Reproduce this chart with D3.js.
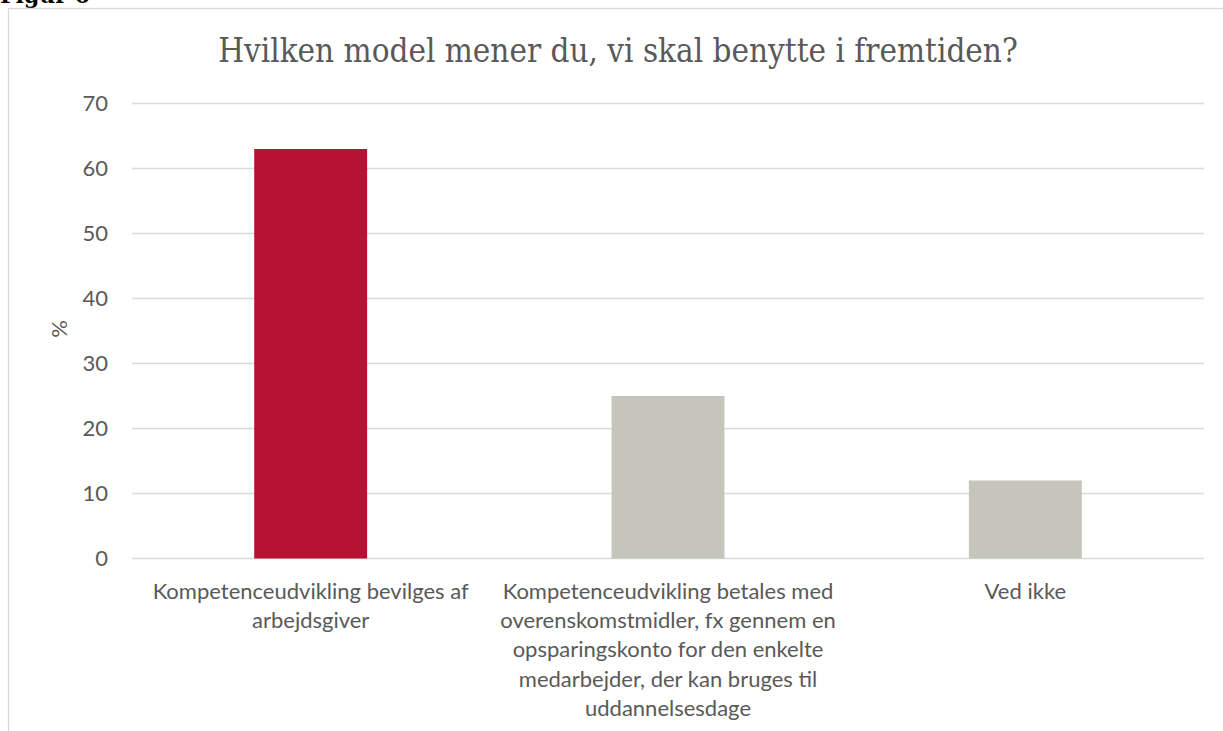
<!DOCTYPE html>
<html>
<head>
<meta charset="utf-8">
<script src="https://cdn.jsdelivr.net/npm/d3@7"></script>
<style>
  body { margin: 0; background: #fff; }
  svg { display: block; }
</style>
</head>
<body>
<div id="chart"></div>
<script>
// chart data
const categories = [
  "Kompetenceudvikling bevilges af\narbejdsgiver",
  "Kompetenceudvikling betales med\noverenskomstmidler, fx gennem en\nopsparingskonto for den enkelte\nmedarbejder, der kan bruges til\nuddannelsesdage",
  "Ved ikke"
];
const values = [63, 25, 12];
const yTicks = [0, 10, 20, 30, 40, 50, 60, 70];
const title = "Hvilken model mener du, vi skal benytte i fremtiden?";
const yLabel = "%";

const W = 1223, H = 731;
const margin = {top: 103.5, right: 19, bottom: 172.5, left: 132},
    width = W - margin.left - margin.right,
    height = H - margin.top - margin.bottom;

const font = "Lato, 'Open Sans', sans-serif";

const svg = d3.select("#chart")
    .append("svg")
    .attr("width", W)
    .attr("height", H);

// figure caption cut off at the top
svg.append("text")
    .attr("x", 0)
    .attr("y", 3)
    .attr("font-family", "DejaVu Serif")
    .attr("font-weight", "bold")
    .attr("font-size", 22)
    .attr("fill", "#000")
    .text("Figur 6");

// chart frame
svg.append("rect")
    .attr("x", 8.5)
    .attr("y", 8.5)
    .attr("width", W + 20)
    .attr("height", H + 20)
    .attr("fill", "none")
    .attr("stroke", "#d9d9d9")
    .attr("stroke-width", 1.3);

const g = svg.append("g")
    .attr("transform", `translate(${margin.left}, ${margin.top})`);

const x = d3.scaleBand()
    .domain(categories)
    .range([0, width])
    .paddingInner(0.684)
    .paddingOuter(0.342);

const y = d3.scaleLinear()
    .domain([0, 70])
    .range([height, 0]);

// gridlines
g.append("g")
    .selectAll("line")
    .data(yTicks)
    .join("line")
    .attr("x1", 0)
    .attr("x2", width)
    .attr("y1", d => y(d))
    .attr("y2", d => y(d))
    .attr("stroke", "#d9d9d9")
    .attr("stroke-width", 1.5);

// Y axis labels
const yAxis = g.append("g")
    .call(d3.axisLeft(y).tickValues(yTicks).tickSize(0).tickPadding(24));
yAxis.select(".domain").remove();
yAxis.selectAll("text")
    .attr("font-family", font)
    .attr("font-size", 22)
    .attr("fill", "#595959");

// bars
g.selectAll("rect.bar")
    .data(values)
    .join("rect")
    .attr("class", "bar")
    .attr("x", (d, i) => x(categories[i]))
    .attr("y", d => y(d))
    .attr("width", x.bandwidth())
    .attr("height", d => height - y(d))
    .attr("fill", (d, i) => i === 0 ? "#b71234" : "#c5c5bc");

// X category labels, multi-line
const xLab = g.append("g")
    .selectAll("text")
    .data(categories)
    .join("text")
    .attr("text-anchor", "middle")
    .attr("font-family", font)
    .attr("font-size", 22)
    .attr("fill", "#595959")
    .attr("transform", d => `translate(${x(d) + x.bandwidth() / 2}, ${height + 40})`);

xLab.selectAll("tspan")
    .data(d => d.split("\n"))
    .join("tspan")
    .attr("x", 0)
    .attr("y", (d, i) => i * 29.4)
    .text(d => d);

// y axis title
svg.append("text")
    .attr("transform", `translate(67, 329) rotate(-90)`)
    .attr("text-anchor", "middle")
    .attr("font-family", font)
    .attr("font-size", 22)
    .attr("fill", "#595959")
    .text(yLabel);

// chart title
const t = svg.append("text")
    .attr("x", 618)
    .attr("y", 62)
    .attr("text-anchor", "middle")
    .attr("font-family", "'DejaVu Serif', serif")
    .attr("font-stretch", "condensed")
    .attr("font-size", 30)
    .attr("fill", "#595959")
    .text(title);
const tw = t.node().getComputedTextLength();
t.attr("font-size", 30 * 800 / tw);
</script>
</body>
</html>
